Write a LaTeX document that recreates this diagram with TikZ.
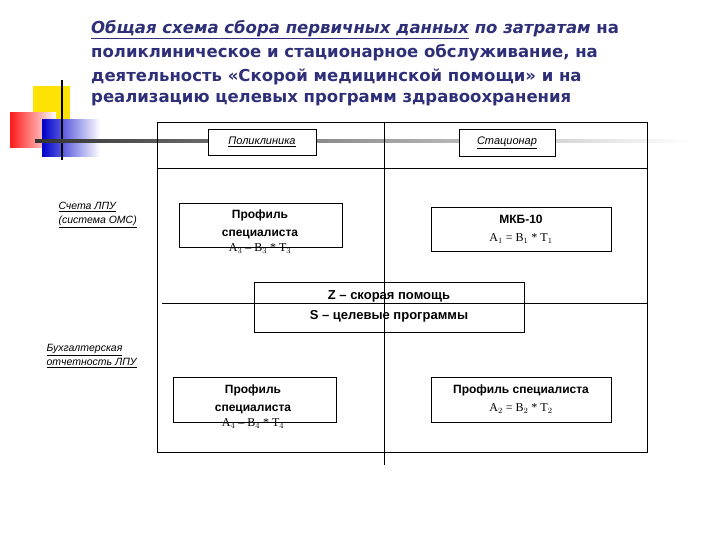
\documentclass[tikz,border=0pt]{standalone}
\usepackage{fontspec}
\setmainfont{Liberation Sans}
\newfontfamily\serifrm{Liberation Serif}
\newfontfamily\titlefont{DejaVu Sans}
\newcommand\myul[1]{\underline{#1}}
\begin{document}
\begin{tikzpicture}[x=1pt,y=-1pt,
  box/.style={draw,thick,fill=white,align=center,inner sep=0pt},
  lab/.style={font=\fontsize{10.5}{14}\selectfont\itshape,align=left,anchor=north west},
  ttl/.style={anchor=west,text=navy,font=\titlefont\fontsize{16.5}{20}\selectfont\bfseries,inner sep=0pt},
  ln/.style={line width=0.8pt}]
\definecolor{navy}{HTML}{2E2F78}
\useasboundingbox (0,0) rectangle (720,540);
% decoration
\fill[yellow!85!orange] (33,86) rectangle (70,123);
\shade[left color=red!90,right color=white] (10,113) rectangle (56,148);
\shade[left color=blue!80!black,right color=white] (42,120) rectangle (100,157);
\draw[line width=1.5pt] (62,80) -- (62,160);
\shade[left color=black!80,right color=white] (35,140) rectangle (690,142.5);
% title
\node[ttl] (t1) at (91,30) {\textit{\myul{Общая схема сбора первичных данных} по затратам} на};
\node[ttl] (t2) at (91,53) {поликлиническое и стационарное обслуживание, на};
\node[ttl] (t3) at (91,77) {деятельность «Скорой медицинской помощи» и на};
\node[ttl] (t4) at (91,100) {реализацию целевых программ здравоохранения};
% frame
\draw[ln] (157,122) rectangle (647,452);
\draw[ln] (384,122) -- (384,465);
\draw[ln] (157,168) -- (648,168);
% boxes
\node[box,minimum width=108,minimum height=26,font=\fontsize{11}{12}\selectfont\itshape] (pol) at (262,142) {\myul{Поликлиника}};
\node[box,minimum width=96,minimum height=27,font=\fontsize{11}{12}\selectfont\itshape] (sta) at (507,142.5) {\myul{Стационар}};
\node[box,minimum width=163,minimum height=44] (p3) at (260.5,225) {};
\node[font=\fontsize{12}{17.5}\selectfont\bfseries,align=center] (p3t) at (260,232) {Профиль\\специалиста\\[-2pt]{\serifrm\mdseries A$_3$ – B$_3$ * T$_3$}};
\node[box,minimum width=180,minimum height=44,font=\fontsize{12}{18}\selectfont\bfseries] (mkb) at (521,229) {МКБ-10\\{\serifrm\mdseries A$_1$ = B$_1$ * T$_1$}};
\node[box,minimum width=270,minimum height=50] (zs) at (389,307) {};
\draw[ln] (162,303) -- (648,303);
\draw[ln] (384,282) -- (384,332);
\node[font=\fontsize{13}{20}\selectfont\bfseries,align=center] (zst) at (389,306) {Z – скорая помощь\\S – целевые программы};
\node[box,minimum width=163,minimum height=45] (p4) at (254.5,399.5) {};
\node[font=\fontsize{12}{17.5}\selectfont\bfseries,align=center] (p4t) at (253,407) {Профиль\\специалиста\\[-2pt]{\serifrm\mdseries A$_4$ – B$_4$ * T$_4$}};
\node[box,minimum width=180,minimum height=45,font=\fontsize{12}{18}\selectfont\bfseries] (p2) at (521,399.5) {Профиль специалиста\\{\serifrm\mdseries A$_2$ = B$_2$ * T$_2$}};
% labels
\node[lab] (l1) at (55,199) {\myul{Счета ЛПУ}\\\myul{(система ОМС)}};
\node[lab] (l2) at (43,341) {\myul{Бухгалтерская}\\\myul{отчетность ЛПУ}};
\end{tikzpicture}
\end{document}
